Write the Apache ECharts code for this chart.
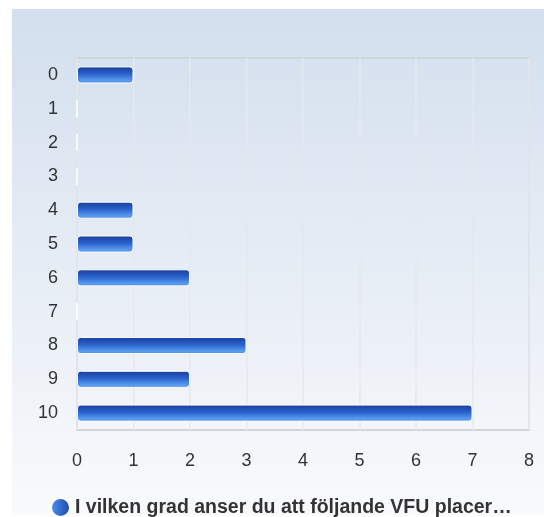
<!DOCTYPE html>
<html>
<head>
<meta charset="utf-8">
<script src="https://cdn.jsdelivr.net/npm/echarts@6/dist/echarts.min.js"></script>
<style>
  html, body { margin: 0; padding: 0; background: #fff; }
  #chart { width: 544px; height: 517px; }
</style>
</head>
<body>
<div id="chart"></div>
<script>
// chart data
var categories = ['0', '1', '2', '3', '4', '5', '6', '7', '8', '9', '10'];
var counts = [1, 0, 0, 0, 1, 1, 2, 0, 3, 2, 7];
var xTicks = [0, 1, 2, 3, 4, 5, 6, 7, 8];
var seriesName = 'I vilken grad anser du att följande VFU placer…';

var barFill = new echarts.graphic.LinearGradient(0, 0, 0, 1, [
  { offset: 0, color: '#1a3c99' },
  { offset: 0.45, color: '#2a62cc' },
  { offset: 0.85, color: '#5a9df0' },
  { offset: 1, color: '#3a7ee0' }
]);

var myChart = echarts.init(document.getElementById('chart'));
var option = {
  backgroundColor: 'transparent',
  animation: false,
  graphic: [{
    type: 'rect',
    z: -10,
    silent: true,
    shape: { x: 12, y: 9, width: 532, height: 506 },
    style: {
      fill: new echarts.graphic.LinearGradient(0, 0, 0, 1, [
        { offset: 0, color: '#d3dfee' },
        { offset: 1, color: '#f9fafc' }
      ])
    }
  }],
  grid: {
    left: 77,
    right: 15,
    top: 58,
    bottom: 87,
    show: true,
    borderColor: '#d2d5da',
    borderWidth: 2,
    backgroundColor: 'transparent'
  },
  legend: {
    top: 497,
    left: 50,
    padding: 0,
    itemWidth: 19,
    itemHeight: 19,
    itemGap: 6,
    icon: 'circle',
    data: [{
      name: seriesName,
      itemStyle: {
        color: new echarts.graphic.LinearGradient(0, 0, 1, 0, [
          { offset: 0, color: '#4d95f0' },
          { offset: 1, color: '#1a44a8' }
        ])
      }
    }],
    textStyle: {
      fontFamily: 'Liberation Sans, Arial, sans-serif',
      fontSize: 19.5,
      fontWeight: 'bold',
      color: '#333'
    }
  },
  xAxis: {
    type: 'value',
    min: 0,
    max: 8,
    interval: 1,
    axisLine: { show: false },
    axisTick: { show: false },
    splitLine: { show: true, lineStyle: { color: '#e6e8ec', width: 1.5 } },
    axisLabel: {
      margin: 22,
      fontFamily: 'Liberation Sans, Arial, sans-serif',
      fontSize: 18,
      color: '#333'
    }
  },
  yAxis: {
    type: 'category',
    inverse: true,
    data: categories,
    axisLine: { show: false },
    axisTick: { show: false },
    splitLine: { show: false },
    axisLabel: {
      margin: 19,
      fontFamily: 'Liberation Sans, Arial, sans-serif',
      fontSize: 18,
      color: '#333',
      padding: [3, 0, 0, 0]
    }
  },
  series: [{
    name: seriesName,
    type: 'bar',
    data: counts,
    barWidth: 17,
    itemStyle: {
      color: barFill,
      borderColor: '#ffffff',
      borderWidth: 1,
      borderRadius: 3
    }
  }]
};
myChart.setOption(option);
</script>
</body>
</html>
